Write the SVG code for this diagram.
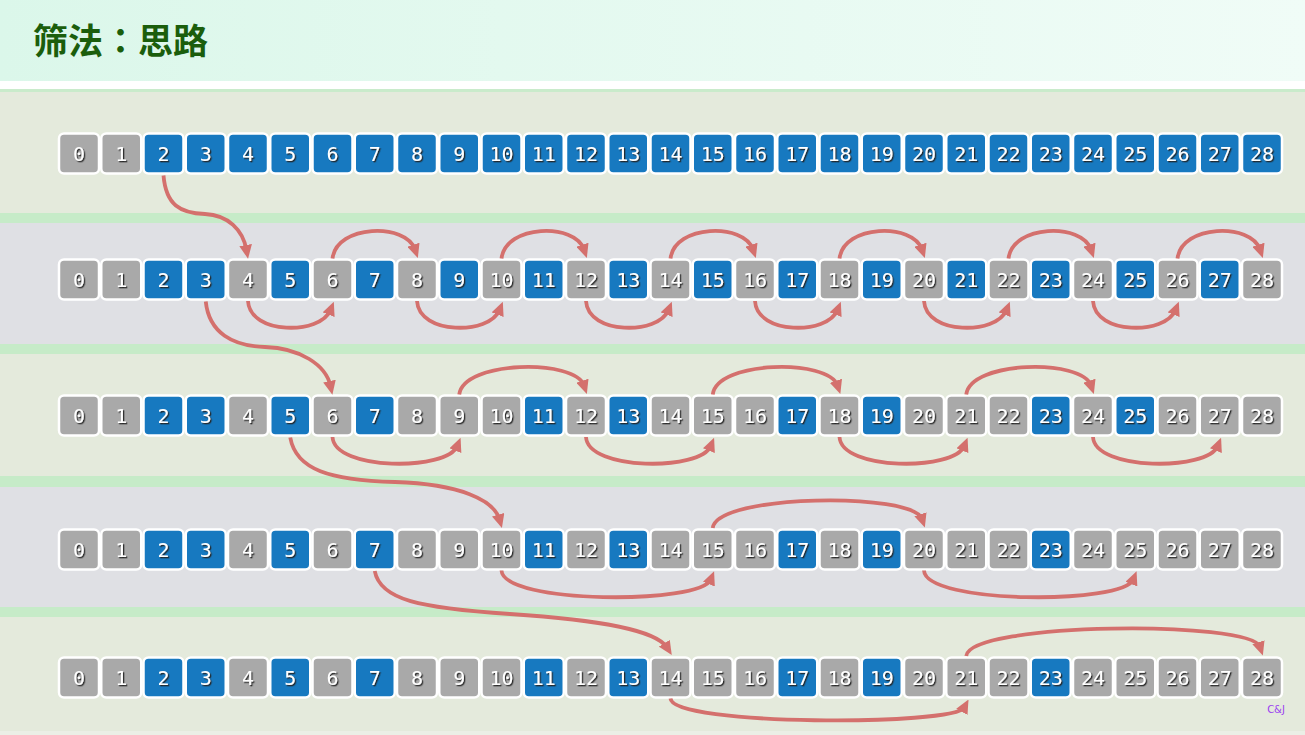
<svg xmlns="http://www.w3.org/2000/svg" width="1305" height="735" viewBox="0 0 1305 735">
<defs>
<linearGradient id="hdr" x1="0" y1="0" x2="1" y2="0"><stop offset="0" stop-color="#dbf7ea"/><stop offset="1" stop-color="#f0fcf7"/></linearGradient>
<filter id="sh" x="-20%" y="-20%" width="140%" height="140%"><feDropShadow dx="1.3" dy="1.3" stdDeviation="0.3" flood-color="#222" flood-opacity="0.95"/></filter>
<marker id="ah" viewBox="0 0 12 11" refX="4.3" refY="5.5" markerWidth="14" markerHeight="12.8" markerUnits="userSpaceOnUse" orient="auto"><path d="M0,0 L12,5.5 L0,11 z" fill="#d4706d"/></marker>
</defs>
<style>
.b{fill:#1779c0;stroke:#fff;stroke-width:2.5}
.g{fill:#a9a9a9;stroke:#fff;stroke-width:2.5}
text.n{font-family:"DejaVu Sans Mono",monospace;font-size:20px;fill:#fff;text-anchor:middle;filter:url(#sh)}
.c{fill:none;stroke:#d4706d;stroke-width:3.8;marker-end:url(#ah)}
</style>
<rect x="0" y="0" width="1305" height="81" fill="url(#hdr)"/>
<rect x="0" y="81" width="1305" height="8" fill="#ffffff"/>
<rect x="0" y="89" width="1305" height="3" fill="#c9ebcb"/>
<rect x="0" y="92" width="1305" height="121" fill="#e4eadc"/>
<rect x="0" y="213" width="1305" height="10" fill="#c6ebc8"/>
<rect x="0" y="223" width="1305" height="121" fill="#dfe0e4"/>
<rect x="0" y="344" width="1305" height="10" fill="#c6ebc8"/>
<rect x="0" y="354" width="1305" height="122" fill="#e4eadc"/>
<rect x="0" y="476" width="1305" height="11" fill="#c6ebc8"/>
<rect x="0" y="487" width="1305" height="120" fill="#dfe0e4"/>
<rect x="0" y="607" width="1305" height="10" fill="#c6ebc8"/>
<rect x="0" y="617" width="1305" height="114" fill="#e4eadc"/>
<rect x="0" y="731" width="1305" height="4" fill="#ebefe6"/>
<text x="33" y="54" font-family="'Noto Sans CJK TC', 'Noto Sans CJK SC', sans-serif" font-weight="bold" font-size="35" fill="#1b5e0c">筛法：思路</text>
<text x="1276" y="713" font-family="'DejaVu Sans', sans-serif" font-size="10" fill="#9b3ff0" text-anchor="middle">C&amp;J</text>

<g id="row1" transform="translate(0,133.5)">
<g id="r1n0"><rect class="g" x="59" y="0" width="40" height="40" rx="5"/><text class="n" x="79" y="27">0</text></g>
<g id="r1n1"><rect class="g" x="101.25" y="0" width="40" height="40" rx="5"/><text class="n" x="121.25" y="27">1</text></g>
<g id="r1n2"><rect class="b" x="143.5" y="0" width="40" height="40" rx="5"/><text class="n" x="163.5" y="27">2</text></g>
<g id="r1n3"><rect class="b" x="185.75" y="0" width="40" height="40" rx="5"/><text class="n" x="205.75" y="27">3</text></g>
<g id="r1n4"><rect class="b" x="228" y="0" width="40" height="40" rx="5"/><text class="n" x="248" y="27">4</text></g>
<g id="r1n5"><rect class="b" x="270.25" y="0" width="40" height="40" rx="5"/><text class="n" x="290.25" y="27">5</text></g>
<g id="r1n6"><rect class="b" x="312.5" y="0" width="40" height="40" rx="5"/><text class="n" x="332.5" y="27">6</text></g>
<g id="r1n7"><rect class="b" x="354.75" y="0" width="40" height="40" rx="5"/><text class="n" x="374.75" y="27">7</text></g>
<g id="r1n8"><rect class="b" x="397" y="0" width="40" height="40" rx="5"/><text class="n" x="417" y="27">8</text></g>
<g id="r1n9"><rect class="b" x="439.25" y="0" width="40" height="40" rx="5"/><text class="n" x="459.25" y="27">9</text></g>
<g id="r1n10"><rect class="b" x="481.5" y="0" width="40" height="40" rx="5"/><text class="n" x="501.5" y="27">10</text></g>
<g id="r1n11"><rect class="b" x="523.75" y="0" width="40" height="40" rx="5"/><text class="n" x="543.75" y="27">11</text></g>
<g id="r1n12"><rect class="b" x="566" y="0" width="40" height="40" rx="5"/><text class="n" x="586" y="27">12</text></g>
<g id="r1n13"><rect class="b" x="608.25" y="0" width="40" height="40" rx="5"/><text class="n" x="628.25" y="27">13</text></g>
<g id="r1n14"><rect class="b" x="650.5" y="0" width="40" height="40" rx="5"/><text class="n" x="670.5" y="27">14</text></g>
<g id="r1n15"><rect class="b" x="692.75" y="0" width="40" height="40" rx="5"/><text class="n" x="712.75" y="27">15</text></g>
<g id="r1n16"><rect class="b" x="735" y="0" width="40" height="40" rx="5"/><text class="n" x="755" y="27">16</text></g>
<g id="r1n17"><rect class="b" x="777.25" y="0" width="40" height="40" rx="5"/><text class="n" x="797.25" y="27">17</text></g>
<g id="r1n18"><rect class="b" x="819.5" y="0" width="40" height="40" rx="5"/><text class="n" x="839.5" y="27">18</text></g>
<g id="r1n19"><rect class="b" x="861.75" y="0" width="40" height="40" rx="5"/><text class="n" x="881.75" y="27">19</text></g>
<g id="r1n20"><rect class="b" x="904" y="0" width="40" height="40" rx="5"/><text class="n" x="924" y="27">20</text></g>
<g id="r1n21"><rect class="b" x="946.25" y="0" width="40" height="40" rx="5"/><text class="n" x="966.25" y="27">21</text></g>
<g id="r1n22"><rect class="b" x="988.5" y="0" width="40" height="40" rx="5"/><text class="n" x="1008.5" y="27">22</text></g>
<g id="r1n23"><rect class="b" x="1030.75" y="0" width="40" height="40" rx="5"/><text class="n" x="1050.75" y="27">23</text></g>
<g id="r1n24"><rect class="b" x="1073" y="0" width="40" height="40" rx="5"/><text class="n" x="1093" y="27">24</text></g>
<g id="r1n25"><rect class="b" x="1115.25" y="0" width="40" height="40" rx="5"/><text class="n" x="1135.25" y="27">25</text></g>
<g id="r1n26"><rect class="b" x="1157.5" y="0" width="40" height="40" rx="5"/><text class="n" x="1177.5" y="27">26</text></g>
<g id="r1n27"><rect class="b" x="1199.75" y="0" width="40" height="40" rx="5"/><text class="n" x="1219.75" y="27">27</text></g>
<g id="r1n28"><rect class="b" x="1242" y="0" width="40" height="40" rx="5"/><text class="n" x="1262" y="27">28</text></g>
</g>

<g id="row2" transform="translate(0,259.5)">
<g id="r2n0"><rect class="g" x="59" y="0" width="40" height="40" rx="5"/><text class="n" x="79" y="27">0</text></g>
<g id="r2n1"><rect class="g" x="101.25" y="0" width="40" height="40" rx="5"/><text class="n" x="121.25" y="27">1</text></g>
<g id="r2n2"><rect class="b" x="143.5" y="0" width="40" height="40" rx="5"/><text class="n" x="163.5" y="27">2</text></g>
<g id="r2n3"><rect class="b" x="185.75" y="0" width="40" height="40" rx="5"/><text class="n" x="205.75" y="27">3</text></g>
<g id="r2n4"><rect class="g" x="228" y="0" width="40" height="40" rx="5"/><text class="n" x="248" y="27">4</text></g>
<g id="r2n5"><rect class="b" x="270.25" y="0" width="40" height="40" rx="5"/><text class="n" x="290.25" y="27">5</text></g>
<g id="r2n6"><rect class="g" x="312.5" y="0" width="40" height="40" rx="5"/><text class="n" x="332.5" y="27">6</text></g>
<g id="r2n7"><rect class="b" x="354.75" y="0" width="40" height="40" rx="5"/><text class="n" x="374.75" y="27">7</text></g>
<g id="r2n8"><rect class="g" x="397" y="0" width="40" height="40" rx="5"/><text class="n" x="417" y="27">8</text></g>
<g id="r2n9"><rect class="b" x="439.25" y="0" width="40" height="40" rx="5"/><text class="n" x="459.25" y="27">9</text></g>
<g id="r2n10"><rect class="g" x="481.5" y="0" width="40" height="40" rx="5"/><text class="n" x="501.5" y="27">10</text></g>
<g id="r2n11"><rect class="b" x="523.75" y="0" width="40" height="40" rx="5"/><text class="n" x="543.75" y="27">11</text></g>
<g id="r2n12"><rect class="g" x="566" y="0" width="40" height="40" rx="5"/><text class="n" x="586" y="27">12</text></g>
<g id="r2n13"><rect class="b" x="608.25" y="0" width="40" height="40" rx="5"/><text class="n" x="628.25" y="27">13</text></g>
<g id="r2n14"><rect class="g" x="650.5" y="0" width="40" height="40" rx="5"/><text class="n" x="670.5" y="27">14</text></g>
<g id="r2n15"><rect class="b" x="692.75" y="0" width="40" height="40" rx="5"/><text class="n" x="712.75" y="27">15</text></g>
<g id="r2n16"><rect class="g" x="735" y="0" width="40" height="40" rx="5"/><text class="n" x="755" y="27">16</text></g>
<g id="r2n17"><rect class="b" x="777.25" y="0" width="40" height="40" rx="5"/><text class="n" x="797.25" y="27">17</text></g>
<g id="r2n18"><rect class="g" x="819.5" y="0" width="40" height="40" rx="5"/><text class="n" x="839.5" y="27">18</text></g>
<g id="r2n19"><rect class="b" x="861.75" y="0" width="40" height="40" rx="5"/><text class="n" x="881.75" y="27">19</text></g>
<g id="r2n20"><rect class="g" x="904" y="0" width="40" height="40" rx="5"/><text class="n" x="924" y="27">20</text></g>
<g id="r2n21"><rect class="b" x="946.25" y="0" width="40" height="40" rx="5"/><text class="n" x="966.25" y="27">21</text></g>
<g id="r2n22"><rect class="g" x="988.5" y="0" width="40" height="40" rx="5"/><text class="n" x="1008.5" y="27">22</text></g>
<g id="r2n23"><rect class="b" x="1030.75" y="0" width="40" height="40" rx="5"/><text class="n" x="1050.75" y="27">23</text></g>
<g id="r2n24"><rect class="g" x="1073" y="0" width="40" height="40" rx="5"/><text class="n" x="1093" y="27">24</text></g>
<g id="r2n25"><rect class="b" x="1115.25" y="0" width="40" height="40" rx="5"/><text class="n" x="1135.25" y="27">25</text></g>
<g id="r2n26"><rect class="g" x="1157.5" y="0" width="40" height="40" rx="5"/><text class="n" x="1177.5" y="27">26</text></g>
<g id="r2n27"><rect class="b" x="1199.75" y="0" width="40" height="40" rx="5"/><text class="n" x="1219.75" y="27">27</text></g>
<g id="r2n28"><rect class="g" x="1242" y="0" width="40" height="40" rx="5"/><text class="n" x="1262" y="27">28</text></g>
</g>

<g id="row3" transform="translate(0,395.5)">
<g id="r3n0"><rect class="g" x="59" y="0" width="40" height="40" rx="5"/><text class="n" x="79" y="27">0</text></g>
<g id="r3n1"><rect class="g" x="101.25" y="0" width="40" height="40" rx="5"/><text class="n" x="121.25" y="27">1</text></g>
<g id="r3n2"><rect class="b" x="143.5" y="0" width="40" height="40" rx="5"/><text class="n" x="163.5" y="27">2</text></g>
<g id="r3n3"><rect class="b" x="185.75" y="0" width="40" height="40" rx="5"/><text class="n" x="205.75" y="27">3</text></g>
<g id="r3n4"><rect class="g" x="228" y="0" width="40" height="40" rx="5"/><text class="n" x="248" y="27">4</text></g>
<g id="r3n5"><rect class="b" x="270.25" y="0" width="40" height="40" rx="5"/><text class="n" x="290.25" y="27">5</text></g>
<g id="r3n6"><rect class="g" x="312.5" y="0" width="40" height="40" rx="5"/><text class="n" x="332.5" y="27">6</text></g>
<g id="r3n7"><rect class="b" x="354.75" y="0" width="40" height="40" rx="5"/><text class="n" x="374.75" y="27">7</text></g>
<g id="r3n8"><rect class="g" x="397" y="0" width="40" height="40" rx="5"/><text class="n" x="417" y="27">8</text></g>
<g id="r3n9"><rect class="g" x="439.25" y="0" width="40" height="40" rx="5"/><text class="n" x="459.25" y="27">9</text></g>
<g id="r3n10"><rect class="g" x="481.5" y="0" width="40" height="40" rx="5"/><text class="n" x="501.5" y="27">10</text></g>
<g id="r3n11"><rect class="b" x="523.75" y="0" width="40" height="40" rx="5"/><text class="n" x="543.75" y="27">11</text></g>
<g id="r3n12"><rect class="g" x="566" y="0" width="40" height="40" rx="5"/><text class="n" x="586" y="27">12</text></g>
<g id="r3n13"><rect class="b" x="608.25" y="0" width="40" height="40" rx="5"/><text class="n" x="628.25" y="27">13</text></g>
<g id="r3n14"><rect class="g" x="650.5" y="0" width="40" height="40" rx="5"/><text class="n" x="670.5" y="27">14</text></g>
<g id="r3n15"><rect class="g" x="692.75" y="0" width="40" height="40" rx="5"/><text class="n" x="712.75" y="27">15</text></g>
<g id="r3n16"><rect class="g" x="735" y="0" width="40" height="40" rx="5"/><text class="n" x="755" y="27">16</text></g>
<g id="r3n17"><rect class="b" x="777.25" y="0" width="40" height="40" rx="5"/><text class="n" x="797.25" y="27">17</text></g>
<g id="r3n18"><rect class="g" x="819.5" y="0" width="40" height="40" rx="5"/><text class="n" x="839.5" y="27">18</text></g>
<g id="r3n19"><rect class="b" x="861.75" y="0" width="40" height="40" rx="5"/><text class="n" x="881.75" y="27">19</text></g>
<g id="r3n20"><rect class="g" x="904" y="0" width="40" height="40" rx="5"/><text class="n" x="924" y="27">20</text></g>
<g id="r3n21"><rect class="g" x="946.25" y="0" width="40" height="40" rx="5"/><text class="n" x="966.25" y="27">21</text></g>
<g id="r3n22"><rect class="g" x="988.5" y="0" width="40" height="40" rx="5"/><text class="n" x="1008.5" y="27">22</text></g>
<g id="r3n23"><rect class="b" x="1030.75" y="0" width="40" height="40" rx="5"/><text class="n" x="1050.75" y="27">23</text></g>
<g id="r3n24"><rect class="g" x="1073" y="0" width="40" height="40" rx="5"/><text class="n" x="1093" y="27">24</text></g>
<g id="r3n25"><rect class="b" x="1115.25" y="0" width="40" height="40" rx="5"/><text class="n" x="1135.25" y="27">25</text></g>
<g id="r3n26"><rect class="g" x="1157.5" y="0" width="40" height="40" rx="5"/><text class="n" x="1177.5" y="27">26</text></g>
<g id="r3n27"><rect class="g" x="1199.75" y="0" width="40" height="40" rx="5"/><text class="n" x="1219.75" y="27">27</text></g>
<g id="r3n28"><rect class="g" x="1242" y="0" width="40" height="40" rx="5"/><text class="n" x="1262" y="27">28</text></g>
</g>

<g id="row4" transform="translate(0,529.5)">
<g id="r4n0"><rect class="g" x="59" y="0" width="40" height="40" rx="5"/><text class="n" x="79" y="27">0</text></g>
<g id="r4n1"><rect class="g" x="101.25" y="0" width="40" height="40" rx="5"/><text class="n" x="121.25" y="27">1</text></g>
<g id="r4n2"><rect class="b" x="143.5" y="0" width="40" height="40" rx="5"/><text class="n" x="163.5" y="27">2</text></g>
<g id="r4n3"><rect class="b" x="185.75" y="0" width="40" height="40" rx="5"/><text class="n" x="205.75" y="27">3</text></g>
<g id="r4n4"><rect class="g" x="228" y="0" width="40" height="40" rx="5"/><text class="n" x="248" y="27">4</text></g>
<g id="r4n5"><rect class="b" x="270.25" y="0" width="40" height="40" rx="5"/><text class="n" x="290.25" y="27">5</text></g>
<g id="r4n6"><rect class="g" x="312.5" y="0" width="40" height="40" rx="5"/><text class="n" x="332.5" y="27">6</text></g>
<g id="r4n7"><rect class="b" x="354.75" y="0" width="40" height="40" rx="5"/><text class="n" x="374.75" y="27">7</text></g>
<g id="r4n8"><rect class="g" x="397" y="0" width="40" height="40" rx="5"/><text class="n" x="417" y="27">8</text></g>
<g id="r4n9"><rect class="g" x="439.25" y="0" width="40" height="40" rx="5"/><text class="n" x="459.25" y="27">9</text></g>
<g id="r4n10"><rect class="g" x="481.5" y="0" width="40" height="40" rx="5"/><text class="n" x="501.5" y="27">10</text></g>
<g id="r4n11"><rect class="b" x="523.75" y="0" width="40" height="40" rx="5"/><text class="n" x="543.75" y="27">11</text></g>
<g id="r4n12"><rect class="g" x="566" y="0" width="40" height="40" rx="5"/><text class="n" x="586" y="27">12</text></g>
<g id="r4n13"><rect class="b" x="608.25" y="0" width="40" height="40" rx="5"/><text class="n" x="628.25" y="27">13</text></g>
<g id="r4n14"><rect class="g" x="650.5" y="0" width="40" height="40" rx="5"/><text class="n" x="670.5" y="27">14</text></g>
<g id="r4n15"><rect class="g" x="692.75" y="0" width="40" height="40" rx="5"/><text class="n" x="712.75" y="27">15</text></g>
<g id="r4n16"><rect class="g" x="735" y="0" width="40" height="40" rx="5"/><text class="n" x="755" y="27">16</text></g>
<g id="r4n17"><rect class="b" x="777.25" y="0" width="40" height="40" rx="5"/><text class="n" x="797.25" y="27">17</text></g>
<g id="r4n18"><rect class="g" x="819.5" y="0" width="40" height="40" rx="5"/><text class="n" x="839.5" y="27">18</text></g>
<g id="r4n19"><rect class="b" x="861.75" y="0" width="40" height="40" rx="5"/><text class="n" x="881.75" y="27">19</text></g>
<g id="r4n20"><rect class="g" x="904" y="0" width="40" height="40" rx="5"/><text class="n" x="924" y="27">20</text></g>
<g id="r4n21"><rect class="g" x="946.25" y="0" width="40" height="40" rx="5"/><text class="n" x="966.25" y="27">21</text></g>
<g id="r4n22"><rect class="g" x="988.5" y="0" width="40" height="40" rx="5"/><text class="n" x="1008.5" y="27">22</text></g>
<g id="r4n23"><rect class="b" x="1030.75" y="0" width="40" height="40" rx="5"/><text class="n" x="1050.75" y="27">23</text></g>
<g id="r4n24"><rect class="g" x="1073" y="0" width="40" height="40" rx="5"/><text class="n" x="1093" y="27">24</text></g>
<g id="r4n25"><rect class="g" x="1115.25" y="0" width="40" height="40" rx="5"/><text class="n" x="1135.25" y="27">25</text></g>
<g id="r4n26"><rect class="g" x="1157.5" y="0" width="40" height="40" rx="5"/><text class="n" x="1177.5" y="27">26</text></g>
<g id="r4n27"><rect class="g" x="1199.75" y="0" width="40" height="40" rx="5"/><text class="n" x="1219.75" y="27">27</text></g>
<g id="r4n28"><rect class="g" x="1242" y="0" width="40" height="40" rx="5"/><text class="n" x="1262" y="27">28</text></g>
</g>

<g id="row5" transform="translate(0,657.5)">
<g id="r5n0"><rect class="g" x="59" y="0" width="40" height="40" rx="5"/><text class="n" x="79" y="27">0</text></g>
<g id="r5n1"><rect class="g" x="101.25" y="0" width="40" height="40" rx="5"/><text class="n" x="121.25" y="27">1</text></g>
<g id="r5n2"><rect class="b" x="143.5" y="0" width="40" height="40" rx="5"/><text class="n" x="163.5" y="27">2</text></g>
<g id="r5n3"><rect class="b" x="185.75" y="0" width="40" height="40" rx="5"/><text class="n" x="205.75" y="27">3</text></g>
<g id="r5n4"><rect class="g" x="228" y="0" width="40" height="40" rx="5"/><text class="n" x="248" y="27">4</text></g>
<g id="r5n5"><rect class="b" x="270.25" y="0" width="40" height="40" rx="5"/><text class="n" x="290.25" y="27">5</text></g>
<g id="r5n6"><rect class="g" x="312.5" y="0" width="40" height="40" rx="5"/><text class="n" x="332.5" y="27">6</text></g>
<g id="r5n7"><rect class="b" x="354.75" y="0" width="40" height="40" rx="5"/><text class="n" x="374.75" y="27">7</text></g>
<g id="r5n8"><rect class="g" x="397" y="0" width="40" height="40" rx="5"/><text class="n" x="417" y="27">8</text></g>
<g id="r5n9"><rect class="g" x="439.25" y="0" width="40" height="40" rx="5"/><text class="n" x="459.25" y="27">9</text></g>
<g id="r5n10"><rect class="g" x="481.5" y="0" width="40" height="40" rx="5"/><text class="n" x="501.5" y="27">10</text></g>
<g id="r5n11"><rect class="b" x="523.75" y="0" width="40" height="40" rx="5"/><text class="n" x="543.75" y="27">11</text></g>
<g id="r5n12"><rect class="g" x="566" y="0" width="40" height="40" rx="5"/><text class="n" x="586" y="27">12</text></g>
<g id="r5n13"><rect class="b" x="608.25" y="0" width="40" height="40" rx="5"/><text class="n" x="628.25" y="27">13</text></g>
<g id="r5n14"><rect class="g" x="650.5" y="0" width="40" height="40" rx="5"/><text class="n" x="670.5" y="27">14</text></g>
<g id="r5n15"><rect class="g" x="692.75" y="0" width="40" height="40" rx="5"/><text class="n" x="712.75" y="27">15</text></g>
<g id="r5n16"><rect class="g" x="735" y="0" width="40" height="40" rx="5"/><text class="n" x="755" y="27">16</text></g>
<g id="r5n17"><rect class="b" x="777.25" y="0" width="40" height="40" rx="5"/><text class="n" x="797.25" y="27">17</text></g>
<g id="r5n18"><rect class="g" x="819.5" y="0" width="40" height="40" rx="5"/><text class="n" x="839.5" y="27">18</text></g>
<g id="r5n19"><rect class="b" x="861.75" y="0" width="40" height="40" rx="5"/><text class="n" x="881.75" y="27">19</text></g>
<g id="r5n20"><rect class="g" x="904" y="0" width="40" height="40" rx="5"/><text class="n" x="924" y="27">20</text></g>
<g id="r5n21"><rect class="g" x="946.25" y="0" width="40" height="40" rx="5"/><text class="n" x="966.25" y="27">21</text></g>
<g id="r5n22"><rect class="g" x="988.5" y="0" width="40" height="40" rx="5"/><text class="n" x="1008.5" y="27">22</text></g>
<g id="r5n23"><rect class="b" x="1030.75" y="0" width="40" height="40" rx="5"/><text class="n" x="1050.75" y="27">23</text></g>
<g id="r5n24"><rect class="g" x="1073" y="0" width="40" height="40" rx="5"/><text class="n" x="1093" y="27">24</text></g>
<g id="r5n25"><rect class="g" x="1115.25" y="0" width="40" height="40" rx="5"/><text class="n" x="1135.25" y="27">25</text></g>
<g id="r5n26"><rect class="g" x="1157.5" y="0" width="40" height="40" rx="5"/><text class="n" x="1177.5" y="27">26</text></g>
<g id="r5n27"><rect class="g" x="1199.75" y="0" width="40" height="40" rx="5"/><text class="n" x="1219.75" y="27">27</text></g>
<g id="r5n28"><rect class="g" x="1242" y="0" width="40" height="40" rx="5"/><text class="n" x="1262" y="27">28</text></g>
</g>

<g id="connectors">
<path class="c" d="M163.5,175.5 C166,205 180,213 205,214 C228,215 243,230 246.5,250"/>
<path class="c" d="M205.75,301.5 C209,333 233,346 265,347 C300,348 326,365 330.5,386"/>
<path class="c" d="M290.25,437.5 C296,470 330,480 395,482 C460,484 494,500 499.5,519.5"/>
<path class="c" d="M374.75,571 C380,600 420,608 510,614 C600,620 656,630 667,647.5"/>

<path class="c" d="M332.5,258.5 C336.5,224.5 406,222.5 415,249.5"/>
<path class="c" d="M501.5,258.5 C505.5,224.5 575,222.5 584,249.5"/>
<path class="c" d="M670.5,258.5 C674.5,224.5 744,222.5 753,249.5"/>
<path class="c" d="M839.5,258.5 C843.5,224.5 913,222.5 922,249.5"/>
<path class="c" d="M1008.5,258.5 C1012.5,224.5 1082,222.5 1091,249.5"/>
<path class="c" d="M1177.5,258.5 C1181.5,224.5 1251,222.5 1260,249.5"/>
<path class="c" d="M248,301 C250,335 320.5,335 330.5,310"/>
<path class="c" d="M417,301 C419,335 489.5,335 499.5,310"/>
<path class="c" d="M586,301 C588,335 658.5,335 668.5,310"/>
<path class="c" d="M755,301 C757,335 827.5,335 837.5,310"/>
<path class="c" d="M924,301 C926,335 996.5,335 1006.5,310"/>
<path class="c" d="M1093,301 C1095,335 1165.5,335 1175.5,310"/>

<path class="c" d="M459.25,394.5 C463.25,360.5 575,358.5 584,385.5"/>
<path class="c" d="M712.75,394.5 C716.75,360.5 828.5,358.5 837.5,385.5"/>
<path class="c" d="M966.25,394.5 C970.25,360.5 1082,358.5 1091,385.5"/>
<path class="c" d="M332.5,437 C334.5,471 447.25,471 457.25,446"/>
<path class="c" d="M586,437 C588,471 700.75,471 710.75,446"/>
<path class="c" d="M839.5,437 C841.5,471 954.25,471 964.25,446"/>
<path class="c" d="M1093,437 C1095,471 1207.75,471 1217.75,446"/>

<path class="c" d="M712.75,528 C716.75,494 913,492 922,519"/>
<path class="c" d="M501.5,570.5 C503.5,604.5 700.75,604.5 710.75,579.5"/>
<path class="c" d="M924,570.5 C926,604.5 1123.25,604.5 1133.25,579.5"/>

<path class="c" d="M966.25,656 C970.25,622 1251,620 1260,647"/>
<path class="c" d="M670.5,698.5 C672.5,726 954.25,726 964.25,707.5"/>
</g>
</svg>
